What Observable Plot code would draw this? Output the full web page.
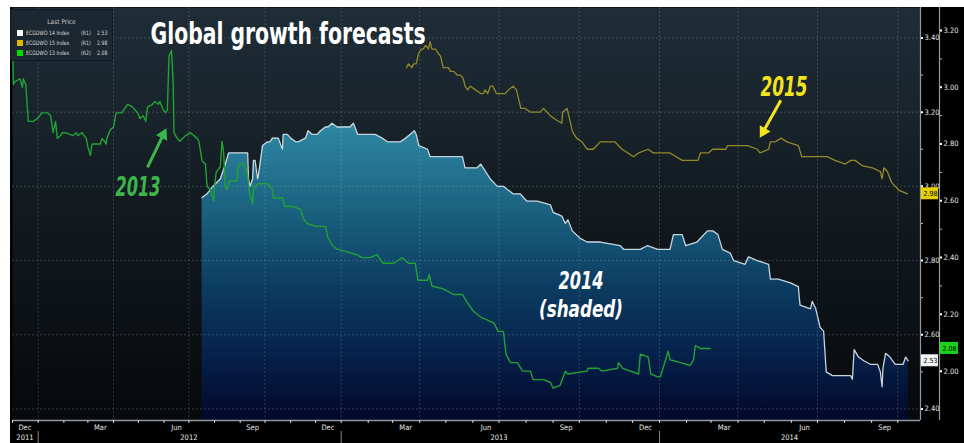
<!DOCTYPE html>
<html><head><meta charset="utf-8">
<script src="https://cdn.jsdelivr.net/npm/d3@7"></script>
<script src="https://cdn.jsdelivr.net/npm/@observablehq/plot@0.6"></script>
<style>
html,body{margin:0;padding:0;background:#fff;overflow:hidden}
#wrap{position:relative;width:964px;height:443px;background:#fff;overflow:hidden}
#chart{position:absolute;left:10px;top:7px}
#legend{position:absolute;left:10px;top:9px;width:101px;height:50px;background:#1c2831;border:1px solid #111a20;
  font-family:'DejaVu Sans Condensed','Liberation Sans Narrow','DejaVu Sans',sans-serif;color:#d6d6d6;font-size:6px}
#legend .lt{position:absolute;left:0;width:100%;top:8px;text-align:center;color:#c4c9cc;font-size:6.5px}
#legend .row{position:absolute;left:0;width:100%;height:8px;line-height:8px}
#legend .sw{position:absolute;left:6px;top:1px;width:6px;height:6px}
#legend .nm{position:absolute;left:15px;display:inline-block;transform:scaleX(0.86);transform-origin:0 50%;white-space:nowrap}
#legend .ax{position:absolute;left:70px;display:inline-block;transform:scaleX(0.86);transform-origin:0 50%}
#legend .pr{position:absolute;left:86px;display:inline-block;transform:scaleX(0.86);transform-origin:0 50%}
</style></head>
<body><div id="wrap"><div id="chart"></div><div id="legend"></div></div>
<script>
// ---------------- data ----------------
const d2013 = ["2011-12-01","2011-12-02","2011-12-04","2011-12-10","2011-12-13","2011-12-14","2011-12-17","2011-12-20","2011-12-26","2011-12-31",
"2012-01-06","2012-01-12","2012-01-16","2012-01-19","2012-01-22","2012-01-24","2012-01-28","2012-01-30","2012-02-03","2012-02-12",
"2012-02-16","2012-02-18","2012-02-23","2012-02-28","2012-03-01","2012-03-04","2012-03-06","2012-03-16","2012-03-18","2012-03-21",
"2012-03-23","2012-03-24","2012-03-28","2012-04-01","2012-04-04","2012-04-11","2012-04-18","2012-04-24","2012-04-30","2012-05-03",
"2012-05-07","2012-05-10","2012-05-12","2012-05-18","2012-05-21","2012-05-25","2012-05-27","2012-05-31","2012-06-03","2012-06-05",
"2012-06-07","2012-06-10","2012-06-12","2012-06-13","2012-06-17","2012-06-20","2012-06-27","2012-07-03","2012-07-11","2012-07-13",
"2012-07-17","2012-07-21","2012-07-23","2012-07-27","2012-07-31","2012-08-01","2012-08-03","2012-08-08","2012-08-10","2012-08-12",
"2012-08-14","2012-08-16","2012-08-19","2012-08-28","2012-08-30","2012-09-01","2012-09-05","2012-09-10","2012-09-12","2012-09-16",
"2012-09-17","2012-09-22","2012-10-04","2012-10-10","2012-10-11","2012-10-22","2012-10-25","2012-11-04","2012-11-13","2012-11-16",
"2012-11-21","2012-12-01","2012-12-13","2012-12-16","2012-12-22","2012-12-27","2013-01-08","2013-01-19","2013-01-25","2013-02-03",
"2013-02-11","2013-02-18","2013-03-02","2013-03-12","2013-03-19","2013-03-27","2013-03-30","2013-04-10","2013-04-12","2013-04-15",
"2013-04-28","2013-05-10","2013-05-20","2013-05-26","2013-06-02","2013-06-10","2013-06-25","2013-06-30","2013-07-06","2013-07-09",
"2013-07-14","2013-07-22","2013-07-28","2013-08-06","2013-08-09","2013-08-21","2013-08-29","2013-09-01","2013-09-09","2013-09-15",
"2013-09-18","2013-10-10","2013-10-11","2013-10-23","2013-10-27","2013-11-14","2013-11-15","2013-11-20","2013-12-08","2013-12-10",
"2013-12-19","2013-12-22","2013-12-30","2014-01-02","2014-01-11","2014-01-13","2014-01-25","2014-02-05","2014-02-09","2014-02-11",
"2014-02-17","2014-02-28"];
const v2013 = [3.18,3.01,3.02,3.03,3.00,3.03,3.01,2.88,2.88,2.89,
2.91,2.91,2.90,2.84,2.88,2.82,2.83,2.84,2.84,2.83,
2.84,2.83,2.84,2.82,2.79,2.76,2.80,2.80,2.82,2.81,
2.80,2.82,2.85,2.86,2.91,2.91,2.94,2.93,2.91,2.89,
2.90,2.88,2.93,2.94,2.95,2.94,2.95,2.92,2.91,2.92,
3.11,3.13,3.02,2.84,2.82,2.81,2.83,2.84,2.82,2.81,
2.74,2.73,2.65,2.64,2.60,2.65,2.70,2.72,2.81,2.77,
2.65,2.64,2.67,2.67,2.73,2.73,2.73,2.69,2.63,2.59,
2.64,2.66,2.66,2.64,2.61,2.61,2.58,2.58,2.57,2.54,
2.52,2.51,2.51,2.47,2.44,2.43,2.42,2.41,2.40,2.40,
2.41,2.38,2.38,2.40,2.38,2.38,2.32,2.32,2.34,2.30,
2.29,2.27,2.27,2.24,2.21,2.19,2.17,2.14,2.14,2.06,
2.03,2.03,2.00,2.00,1.97,1.97,1.96,1.94,1.95,2.00,
1.99,2.00,2.01,2.01,2.00,2.01,2.03,2.01,1.99,2.06,
2.05,1.99,1.98,1.98,2.07,2.04,2.03,2.02,2.04,2.09,
2.08,2.08];

const d2014 = ["2012-07-17","2012-07-23","2012-07-30","2012-08-08","2012-08-14","2012-08-18","2012-08-22","2012-09-10","2012-09-11","2012-09-13",
"2012-09-16","2012-09-17","2012-09-19","2012-09-22","2012-09-23","2012-09-28","2012-10-04","2012-10-07","2012-10-10","2012-10-17",
"2012-10-22","2012-10-23","2012-10-28","2012-11-01","2012-11-07","2012-11-10","2012-11-19","2012-11-22","2012-11-27","2012-12-03",
"2012-12-07","2012-12-13","2012-12-16","2012-12-21","2012-12-27","2013-01-03","2013-01-11","2013-01-15","2013-01-20","2013-01-31",
"2013-02-09","2013-02-17","2013-02-23","2013-03-10","2013-03-16","2013-03-21","2013-03-26","2013-03-28","2013-03-31","2013-04-10",
"2013-04-13","2013-05-20","2013-05-23","2013-06-06","2013-06-10","2013-06-21","2013-06-29","2013-07-06","2013-07-17","2013-07-25",
"2013-08-02","2013-08-14","2013-08-29","2013-09-01","2013-09-11","2013-09-15","2013-09-18","2013-09-23","2013-10-02","2013-10-10",
"2013-10-25","2013-11-17","2013-11-21","2013-12-10","2013-12-18","2013-12-30","2014-01-13","2014-01-17","2014-01-27","2014-01-31",
"2014-02-13","2014-02-17","2014-02-25","2014-03-03","2014-03-09","2014-03-14","2014-03-23","2014-03-27","2014-04-09","2014-04-13",
"2014-04-23","2014-05-06","2014-05-08","2014-05-17","2014-05-31","2014-06-09","2014-06-11","2014-06-23","2014-06-25","2014-06-29",
"2014-07-04","2014-07-08","2014-07-11","2014-07-18","2014-08-08","2014-08-10","2014-08-12","2014-08-17","2014-08-23","2014-08-31",
"2014-09-08","2014-09-11","2014-09-13","2014-09-14","2014-09-17","2014-09-22","2014-09-28","2014-10-07","2014-10-10","2014-10-13"];
const v2014 = [2.97,2.98,3.00,3.02,3.06,3.09,3.09,3.09,3.02,3.00,
3.02,3.07,3.07,3.02,3.03,3.11,3.12,3.12,3.13,3.13,
3.10,3.14,3.14,3.13,3.12,3.12,3.13,3.15,3.14,3.14,
3.15,3.16,3.16,3.17,3.16,3.16,3.16,3.17,3.14,3.14,
3.14,3.13,3.12,3.12,3.13,3.14,3.15,3.14,3.11,3.10,
3.08,3.08,3.05,3.05,3.06,3.02,3.00,3.00,2.98,2.98,
2.96,2.96,2.95,2.93,2.92,2.90,2.91,2.88,2.86,2.85,
2.85,2.84,2.83,2.83,2.84,2.83,2.83,2.87,2.87,2.84,
2.85,2.86,2.88,2.88,2.87,2.83,2.82,2.80,2.79,2.81,
2.80,2.79,2.75,2.75,2.74,2.73,2.68,2.67,2.69,2.67,
2.62,2.61,2.50,2.49,2.49,2.48,2.56,2.54,2.53,2.52,
2.52,2.50,2.46,2.51,2.55,2.54,2.52,2.52,2.54,2.53];

const d2015 = ["2013-03-17","2013-03-19","2013-03-23","2013-03-25","2013-03-28","2013-03-31","2013-04-03","2013-04-05","2013-04-08","2013-04-11",
"2013-04-13","2013-04-15","2013-04-19","2013-04-22","2013-04-25","2013-04-28","2013-05-04","2013-05-06","2013-05-10","2013-05-14",
"2013-05-18","2013-05-21","2013-05-23","2013-05-26","2013-05-29","2013-06-04","2013-06-10","2013-06-13","2013-06-15","2013-06-18",
"2013-06-21","2013-06-24","2013-06-28","2013-07-08","2013-07-12","2013-07-17","2013-07-21","2013-07-23","2013-07-26","2013-07-31",
"2013-08-06","2013-08-17","2013-08-21","2013-08-25","2013-08-29","2013-09-04","2013-09-11","2013-09-12","2013-09-17","2013-09-19",
"2013-09-23","2013-09-25","2013-09-28","2013-10-04","2013-10-10","2013-10-17","2013-10-25","2013-11-11","2013-11-19","2013-11-26",
"2013-12-02","2013-12-08","2013-12-19","2013-12-25","2014-01-13","2014-01-27","2014-02-14","2014-02-17","2014-02-26","2014-03-03",
"2014-03-18","2014-03-20","2014-04-12","2014-04-23","2014-04-26","2014-05-06","2014-05-08","2014-05-14","2014-05-20","2014-05-27",
"2014-06-09","2014-06-13","2014-07-12","2014-07-21","2014-08-02","2014-08-08","2014-08-13","2014-08-22","2014-09-02","2014-09-11",
"2014-09-13","2014-09-15","2014-09-19","2014-09-24","2014-10-02","2014-10-12"];
const v2015 = [3.32,3.33,3.32,3.33,3.33,3.36,3.37,3.37,3.38,3.37,
3.39,3.37,3.37,3.36,3.35,3.32,3.32,3.31,3.31,3.30,
3.30,3.29,3.27,3.26,3.27,3.26,3.25,3.25,3.26,3.25,
3.27,3.27,3.25,3.25,3.26,3.27,3.26,3.24,3.21,3.21,
3.20,3.20,3.21,3.20,3.19,3.18,3.17,3.20,3.21,3.19,
3.15,3.14,3.13,3.12,3.10,3.10,3.12,3.12,3.10,3.09,
3.08,3.09,3.10,3.09,3.09,3.07,3.07,3.09,3.09,3.10,
3.10,3.11,3.11,3.10,3.09,3.10,3.12,3.12,3.13,3.12,
3.11,3.08,3.08,3.07,3.06,3.07,3.07,3.055,3.05,3.04,
3.02,3.05,3.04,3.01,2.99,2.98];

const r1Ticks = [2.40, 2.60, 2.80, 3.00, 3.20, 3.40];
const r1Minor = [2.50, 2.70, 2.90, 3.10, 3.30];
const r2Ticks = [2.00, 2.20, 2.40, 2.60, 2.80, 3.00, 3.20];
const r2Minor = [2.10, 2.30, 2.50, 2.70, 2.90, 3.10];
// R2 values that sit level with R1 values on the picture
const r2AlignR2 = [2.00, 3.20];
const r2AlignR1 = [2.502, 3.420];

const monthLabels = ["Dec","Mar","Jun","Sep","Dec","Mar","Jun","Sep","Dec","Mar","Jun","Sep"];
const monthLabelDates = ["2011-12-16","2012-03-16","2012-06-16","2012-09-16","2012-12-16","2013-03-16","2013-06-16","2013-09-16","2013-12-16","2014-03-16","2014-06-16","2014-09-16"];
const yearLabels = ["2011","2012","2013","2014"];
const yearLabelDates = ["2011-12-16","2012-07-01","2013-07-01","2014-05-30"];
const yearStarts = ["2012-01-01","2013-01-01","2014-01-01"];

const legendNames = ["ECGDWO 14 Index","ECGDWO 15 Index","ECGDWO 13 Index"];
const legendAxes = ["(R1)","(R1)","(R2)"];
const lastPrices = [2.53, 2.98, 2.08];

const annTitle = "Global growth forecasts";
const ann2013 = "2013", ann2015 = "2015", ann2014 = ["2014", "(shaded)"];

// ---------------- build ----------------
const parse = d3.utcParse("%Y-%m-%d");
const toR1 = d3.scaleLinear().domain(r2AlignR2).range(r2AlignR1);
const s2013 = d2013.map((d, i) => ({date: parse(d), value: toR1(v2013[i])}));
const s2014 = d2014.map((d, i) => ({date: parse(d), value: v2014[i]}));
const s2015 = d2015.map((d, i) => ({date: parse(d), value: v2015[i]}));

const W = 954, H = 436, ML = 2, MR = 44, MT = 0, MB = 23;
const X_DOMAIN = ["2011-12-01","2012-01-01","2013-01-01","2014-01-01","2014-10-27"].map(parse);
const X_RANGE = [2, 27.7, 330.7, 649, 910];
const X_END = X_DOMAIN[X_DOMAIN.length - 1];
const Y_DOMAIN = [2.369, 3.482];
const FONT = "'DejaVu Sans Condensed','Liberation Sans Narrow','DejaVu Sans',sans-serif";
const BIG = "'Liberation Sans Narrow','DejaVu Sans Condensed','Liberation Sans',sans-serif";

const quarterStarts = d3.utcMonth.every(3).range(parse("2012-01-01"), parse("2014-10-02"));
const monthStarts = d3.utcMonth.range(parse("2011-12-01"), parse("2014-10-02"));
const mLab = new Map(monthLabelDates.map((d, i) => [+parse(d), monthLabels[i]]));
const yLab = new Map(yearLabelDates.map((d, i) => [+parse(d), yearLabels[i]]));
const r2Lab = new Map(r2Ticks.map(v => [toR1(v), v.toFixed(2)]));

const tags = [
  {y: lastPrices[0], label: lastPrices[0].toFixed(2), color: "#f2f2f2"},
  {y: lastPrices[1], label: lastPrices[1].toFixed(2), color: "#e6d000"},
  {y: toR1(lastPrices[2]), label: lastPrices[2].toFixed(2), color: "#18d418"}
];
const arrows = [
  {x1: parse("2012-05-12"), y1: 3.051, x2: parse("2012-05-31"), y2: 3.139, rot: 26, c: "#3db54a"},
  {x1: parse("2014-05-20"), y1: 3.232, x2: parse("2014-04-30"), y2: 3.148, rot: 209.6, c: "#f5e41c"}
];

const defs = () => {
  const s = d3.create("svg:defs");
  const bg = s.append("linearGradient").attr("id", "bgGrad").attr("gradientUnits", "userSpaceOnUse")
    .attr("x1", 0).attr("x2", 0).attr("y1", 0).attr("y2", H - MB);
  [[0, "#1f2d37"], [0.25, "#19242c"], [0.5, "#12191f"], [0.75, "#0c1115"], [1, "#07090b"]]
    .forEach(([o, c]) => bg.append("stop").attr("offset", o).attr("stop-color", c));
  const ar = s.append("linearGradient").attr("id", "areaGrad").attr("gradientUnits", "userSpaceOnUse")
    .attr("x1", 0).attr("x2", 0).attr("y1", 115).attr("y2", H - MB);
  [[0, "#2f88a3"], [0.28, "#1b6482"], [0.55, "#0c3c61"], [0.78, "#06214b"], [1, "#020829"]]
    .forEach(([o, c]) => ar.append("stop").attr("offset", o).attr("stop-color", c));
  return s.node();
};

const grid = {stroke: "#a9bcc8", strokeOpacity: 0.25, strokeDasharray: "2,2"};
const axisCol = "#8e999f";

const chart = Plot.plot({
  width: W, height: H, marginLeft: ML, marginRight: MR, marginTop: MT, marginBottom: MB,
  style: {background: "#000", color: "#e6e6e6", fontFamily: FONT},
  x: {type: "utc", domain: X_DOMAIN, range: X_RANGE, label: null},
  y: {type: "linear", domain: Y_DOMAIN, range: [H - MB, MT], label: null},
  marks: [
    defs,
    Plot.frame({fill: "url(#bgGrad)", stroke: "none"}),
    Plot.areaY(s2014, {x: "date", y1: () => Y_DOMAIN[0], y2: "value", fill: "url(#areaGrad)"}),
    Plot.ruleY(r1Ticks, grid),
    Plot.ruleX(quarterStarts, grid),
    Plot.lineY(s2014, {x: "date", y: "value", stroke: "#c6d4dc", strokeWidth: 1.3}),
    Plot.lineY(s2015, {x: "date", y: "value", stroke: "#908a2a", strokeWidth: 1.3}),
    Plot.lineY(s2013, {x: "date", y: "value", stroke: "#22a235", strokeWidth: 1.4}),
    // annotations
    Plot.text([annTitle], {frameAnchor: "top-left", dx: 138, dy: 36.5, lineAnchor: "bottom", textAnchor: "start",
      fontSize: 30, fontWeight: "bold", fill: "#ffffff", fontFamily: BIG}),
    Plot.text([ann2013], {frameAnchor: "top-left", dx: 125.5, dy: 188.5, lineAnchor: "bottom", textAnchor: "middle",
      fontSize: 27, fontWeight: "bold", fontStyle: "italic", fill: "#3db54a", fontFamily: BIG}),
    Plot.text([ann2015], {frameAnchor: "top-left", dx: 771.5, dy: 88, lineAnchor: "bottom", textAnchor: "middle",
      fontSize: 27, fontWeight: "bold", fontStyle: "italic", fill: "#f5e41c", fontFamily: BIG}),
    Plot.text([ann2014[0]], {frameAnchor: "top-left", dx: 568.5, dy: 281, lineAnchor: "bottom", textAnchor: "middle",
      fontSize: 25, fontWeight: "bold", fontStyle: "italic", fill: "#ffffff", fontFamily: BIG}),
    Plot.text([ann2014[1]], {frameAnchor: "top-left", dx: 568.5, dy: 309.5, lineAnchor: "bottom", textAnchor: "middle",
      fontSize: 23, fontWeight: "bold", fontStyle: "italic", fill: "#ffffff", fontFamily: BIG}),
    Plot.link(arrows, {x1: "x1", y1: "y1", x2: "x2", y2: "y2", stroke: "c", strokeWidth: 3}),
    Plot.dot(arrows, {x: "x2", y: "y2", symbol: "triangle", r: 4.6, rotate: "rot", fill: "c", stroke: "none"}),
    // axes
    Plot.ruleY([Y_DOMAIN[0]], {stroke: axisCol, strokeWidth: 1.5}),
    Plot.ruleX([X_END], {stroke: axisCol, strokeWidth: 1.2}),
    Plot.ruleX([X_END], {dx: 19, stroke: axisCol, strokeWidth: 1.2}),
    Plot.axisY(r1Minor, {anchor: "right", tickSize: 2, tickFormat: () => "", stroke: "#bbb"}),
    Plot.axisY(r1Ticks, {anchor: "right", tickSize: 2, tickPadding: 2, tickFormat: d3.format(".2f"), fontSize: 7.5, stroke: "#fff", strokeWidth: 2}),
    Plot.axisY(r2Minor.map(toR1), {anchor: "right", dx: 19, tickSize: 2, tickFormat: () => "", stroke: "#bbb"}),
    Plot.axisY(r2Ticks.map(toR1), {anchor: "right", dx: 19, tickSize: 2, tickPadding: 2, tickFormat: d => r2Lab.get(d), fontSize: 7.5, stroke: "#fff", strokeWidth: 2}),
    Plot.axisX(monthStarts, {anchor: "bottom", tickSize: 3, tickFormat: () => "", stroke: "#d0d4d8"}),
    Plot.axisX(monthLabelDates.map(parse), {anchor: "bottom", tickSize: 0, tickPadding: 4, tickFormat: d => mLab.get(+d), fontSize: 7.5}),
    Plot.axisX(yearLabelDates.map(parse), {anchor: "bottom", tickSize: 0, tickPadding: 14, tickFormat: d => yLab.get(+d), fontSize: 7.5}),
    Plot.axisX(yearStarts.map(parse), {anchor: "bottom", dy: 11, tickSize: 12, tickFormat: () => "", stroke: "#888"}),
    // last-price tags
    Plot.rect(tags.slice(0, 2), {x1: () => X_END, x2: () => X_END, y1: "y", y2: "y", fill: "color",
      insetLeft: 1, insetRight: -18, insetTop: -6, insetBottom: -6}),
    Plot.rect(tags.slice(2), {x1: () => X_END, x2: () => X_END, y1: "y", y2: "y", fill: "color",
      insetLeft: 20, insetRight: -38, insetTop: -6, insetBottom: -6}),
    Plot.text(tags.slice(0, 2), {x: () => X_END, y: "y", text: "label", dx: 10, fontSize: 7, fill: "#000"}),
    Plot.text(tags.slice(2), {x: () => X_END, y: "y", text: "label", dx: 29, fontSize: 7, fill: "#000"})
  ]
});

const fitW = new Map([[annTitle, 275], [ann2013, 45], [ann2015, 47], [ann2014[0], 45], [ann2014[1], 84]]);
chart.querySelectorAll('g[aria-label="text"] text').forEach(t => {
  const w = fitW.get(t.textContent);
  if (w) { t.setAttribute("textLength", w); t.setAttribute("lengthAdjust", "spacingAndGlyphs"); }
});
document.getElementById("chart").appendChild(chart);

// legend
const lg = d3.select("#legend");
lg.append("div").attr("class", "lt").text("Last Price");
const swatch = ["#ffffff", "#e0b800", "#00dd00"];
legendNames.forEach((n, i) => {
  const r = lg.append("div").attr("class", "row").style("top", (19 + i * 10) + "px");
  r.append("span").attr("class", "sw").style("background", swatch[i]);
  r.append("span").attr("class", "nm").text(n);
  r.append("span").attr("class", "ax").text(legendAxes[i]);
  r.append("span").attr("class", "pr").text(lastPrices[i].toFixed(2));
});
</script>
</body></html>
